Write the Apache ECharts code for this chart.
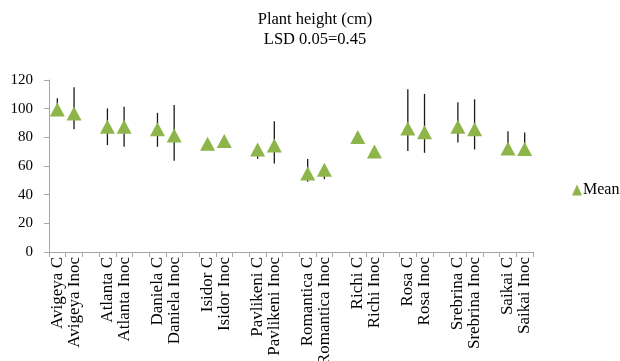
<!DOCTYPE html>
<html>
<head>
<meta charset="utf-8">
<script src="https://cdn.jsdelivr.net/npm/echarts@6/dist/echarts.min.js"></script>
<style>html,body{margin:0;padding:0;background:#fff;}#c{width:620px;height:361px;}</style>
</head>
<body>
<div id="c"></div>
<script>
var categories = ['Avigeya C','Avigeya Inoc','','Atlanta C','Atlanta Inoc','','Daniela C','Daniela Inoc','','Isidor C','Isidor Inoc','','Pavlikeni C','Pavlikeni Inoc','','Romantica C','Romantica Inoc','','Richi C','Richi Inoc','','Rosa C','Rosa Inoc','','Srebrina C','Srebrina Inoc','','Saikai C','Saikai Inoc'];
var meanValues = [99.5,96.7,null,87.4,87.4,null,85.7,81.3,null,75.5,77.4,null,71.5,74.3,null,54.8,57.3,null,80.2,70.2,null,86.2,83.6,null,87.4,85.7,null,72.2,71.8];
var highValues = [107.2,114.9,null,100.2,101.4,null,97.1,102.5,null,77,79,null,73,91.3,null,64.8,59,null,81,71,null,113.5,110.3,null,104.4,106.5,null,84.3,83.4];
var lowValues  = [96,85.7,null,74.6,73.4,null,73.4,63.6,null,74,76,null,65,61.8,null,49,50.8,null,79,69,null,70.4,69.2,null,76.4,71.5,null,70,70];
var yTicks = [0,20,40,60,80,100,120];

var errData = [];
for (var i = 0; i < categories.length; i++) {
  if (meanValues[i] !== null) errData.push([i, lowValues[i], highValues[i]]);
}
var chart = echarts.init(document.getElementById('c'));
chart.setOption({
  animation: false,
  title: {
    text: 'Plant height (cm)\nLSD 0.05=0.45',
    left: 315, top: 10, textAlign: 'center', padding: 0,
    textStyle: {fontFamily: 'Liberation Serif', fontSize: 16.5, fontWeight: 'normal', color: '#000', lineHeight: 20}
  },
  legend: {
    data: [{name: 'Mean', icon: 'triangle'}],
    left: 572, top: 182, padding: 0, itemWidth: 10, itemHeight: 11, itemGap: 2,
    textStyle: {fontFamily: 'Liberation Serif', fontSize: 16, color: '#000', padding: [0,0,0,-4]}
  },
  grid: {left: 49, right: 87, top: 80, bottom: 109, containLabel: false, outerBoundsMode: 'none'},
  xAxis: {
    type: 'category', data: categories, boundaryGap: true,
    axisLine: {lineStyle: {color: '#a6a6a6'}},
    axisTick: {show: true, interval: 0, length: 5, lineStyle: {color: '#a6a6a6'}},
    axisLabel: {interval: 0, rotate: 90, fontFamily: 'Liberation Serif', fontSize: 17, color: '#000', margin: 5}
  },
  yAxis: {
    type: 'value', min: yTicks[0], max: yTicks[yTicks.length-1], interval: 20,
    splitLine: {show: false},
    axisLine: {show: true, lineStyle: {color: '#a6a6a6'}},
    axisTick: {show: true, length: 5, lineStyle: {color: '#a6a6a6'}},
    axisLabel: {fontFamily: 'Liberation Serif', fontSize: 15, color: '#000', margin: 16}
  },
  series: [
    {
      type: 'custom', name: 'err', z: 1,
      data: errData,
      renderItem: function (params, api) {
        var lo = api.coord([api.value(0), api.value(1)]);
        var hi = api.coord([api.value(0), api.value(2)]);
        return {type: 'line', shape: {x1: lo[0], y1: lo[1], x2: hi[0], y2: hi[1]}, style: {stroke: '#1a1a1a', lineWidth: 1.3}};
      },
      encode: {x: 0, y: [1, 2]},
      silent: true
    },
    {
      type: 'scatter', name: 'Mean', z: 5,
      data: meanValues,
      symbol: 'triangle', symbolSize: [15, 14],
      itemStyle: {color: '#8db54a', opacity: 1}
    }
  ]
});
</script>
</body>
</html>
